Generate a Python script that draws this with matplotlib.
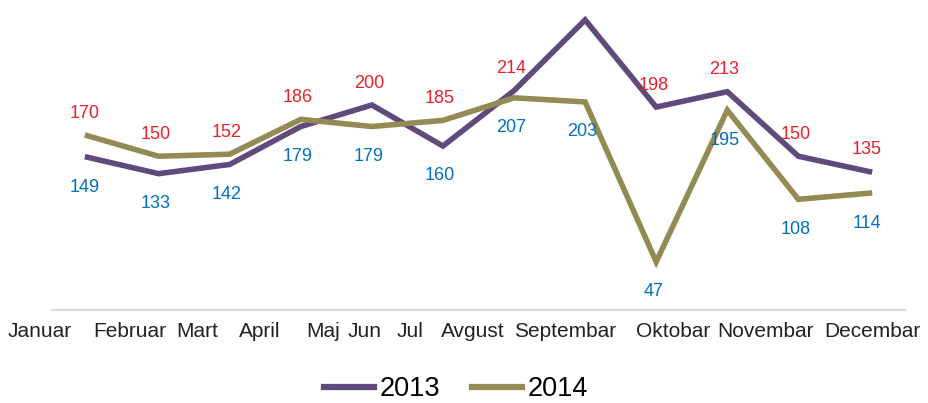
import matplotlib
matplotlib.use("Agg")
import matplotlib.pyplot as plt
from matplotlib import font_manager
from matplotlib.lines import Line2D

# ----------------------------
# DATA
# ----------------------------
months = ["Januar", "Februar", "Mart", "April", "Maj", "Jun", "Jul",
          "Avgust", "Septembar", "Oktobar", "Novembar", "Decembar"]
values_2013 = [149, 133, 142, 179, 200, 160, 214, 283, 198, 213, 150, 135]
values_2014 = [170, 150, 152, 186, 179, 185, 207, 203, 47, 195, 108, 114]

# where the month names sit along the axis (category units, uneven as in source)
month_label_pos = [-0.68, 0.59, 1.54, 2.42, 3.31, 3.90, 4.54, 5.42, 6.72, 8.24, 9.54, 11.04]

# ----------------------------
# STYLE
# ----------------------------
names = {f.name for f in font_manager.fontManager.ttflist}
narrow = "Liberation Sans Narrow" if "Liberation Sans Narrow" in names else "Liberation Sans"
regular = "Liberation Sans"
label_size = 14 if narrow == "Liberation Sans Narrow" else 13

color_2013 = "#604A7B"
color_2014 = "#948A54"
color_hi = "#E8212B"
color_lo = "#0070C0"

fig = plt.figure(figsize=(9.29, 4.03), dpi=100)
ax = fig.add_axes([52 / 929, 1 - 310 / 403, (905 - 52) / 929, (310 - 2.5) / 403])

x = list(range(len(months)))
ax.plot(x, values_2013, color=color_2013, lw=4, solid_joinstyle="miter", zorder=3)
ax.plot(x, values_2014, color=color_2014, lw=4, solid_joinstyle="miter", zorder=3)

# data labels: higher value above in red, lower value below in blue
# (a label that would land above the plot area is not shown, as in the source)
for i in x:
    hi = max(values_2013[i], values_2014[i])
    lo = min(values_2013[i], values_2014[i])
    if hi < 260:
        ax.annotate(str(hi), (i, hi), xytext=(-3, 22), textcoords="offset pixels",
                    ha="center", va="center", color=color_hi, fontsize=label_size,
                    family=narrow, zorder=4)
    ax.annotate(str(lo), (i, lo), xytext=(-3, -30), textcoords="offset pixels",
                ha="center", va="center", color=color_lo, fontsize=label_size,
                family=narrow, zorder=4)

ax.set_xlim(-0.5, 11.5)
ax.set_ylim(0, 300)

for side in ["top", "right", "left"]:
    ax.spines[side].set_visible(False)
ax.spines["bottom"].set_color("#D9D9D9")
ax.spines["bottom"].set_linewidth(1.5)
ax.set_xticks([])
ax.set_yticks([])

# month names placed under the axis
trans = ax.get_xaxis_transform()
for pos, name in zip(month_label_pos, months):
    ax.text(pos, -0.0878, name, transform=trans, ha="center", va="baseline",
            fontsize=15, family=regular, color="#222222", clip_on=False)

handles = [Line2D([], [], color=color_2013, lw=4.5),
           Line2D([], [], color=color_2014, lw=4.5)]
fig.legend(handles, ["2013", "2014"], loc="center", bbox_to_anchor=(456 / 929, 1 - 389 / 403),
           ncol=2, frameon=False, prop={"family": regular, "size": 19.5},
           handlelength=1.85, handletextpad=0.2, columnspacing=1.2, borderpad=0)

fig.savefig("out.png", dpi=100)
